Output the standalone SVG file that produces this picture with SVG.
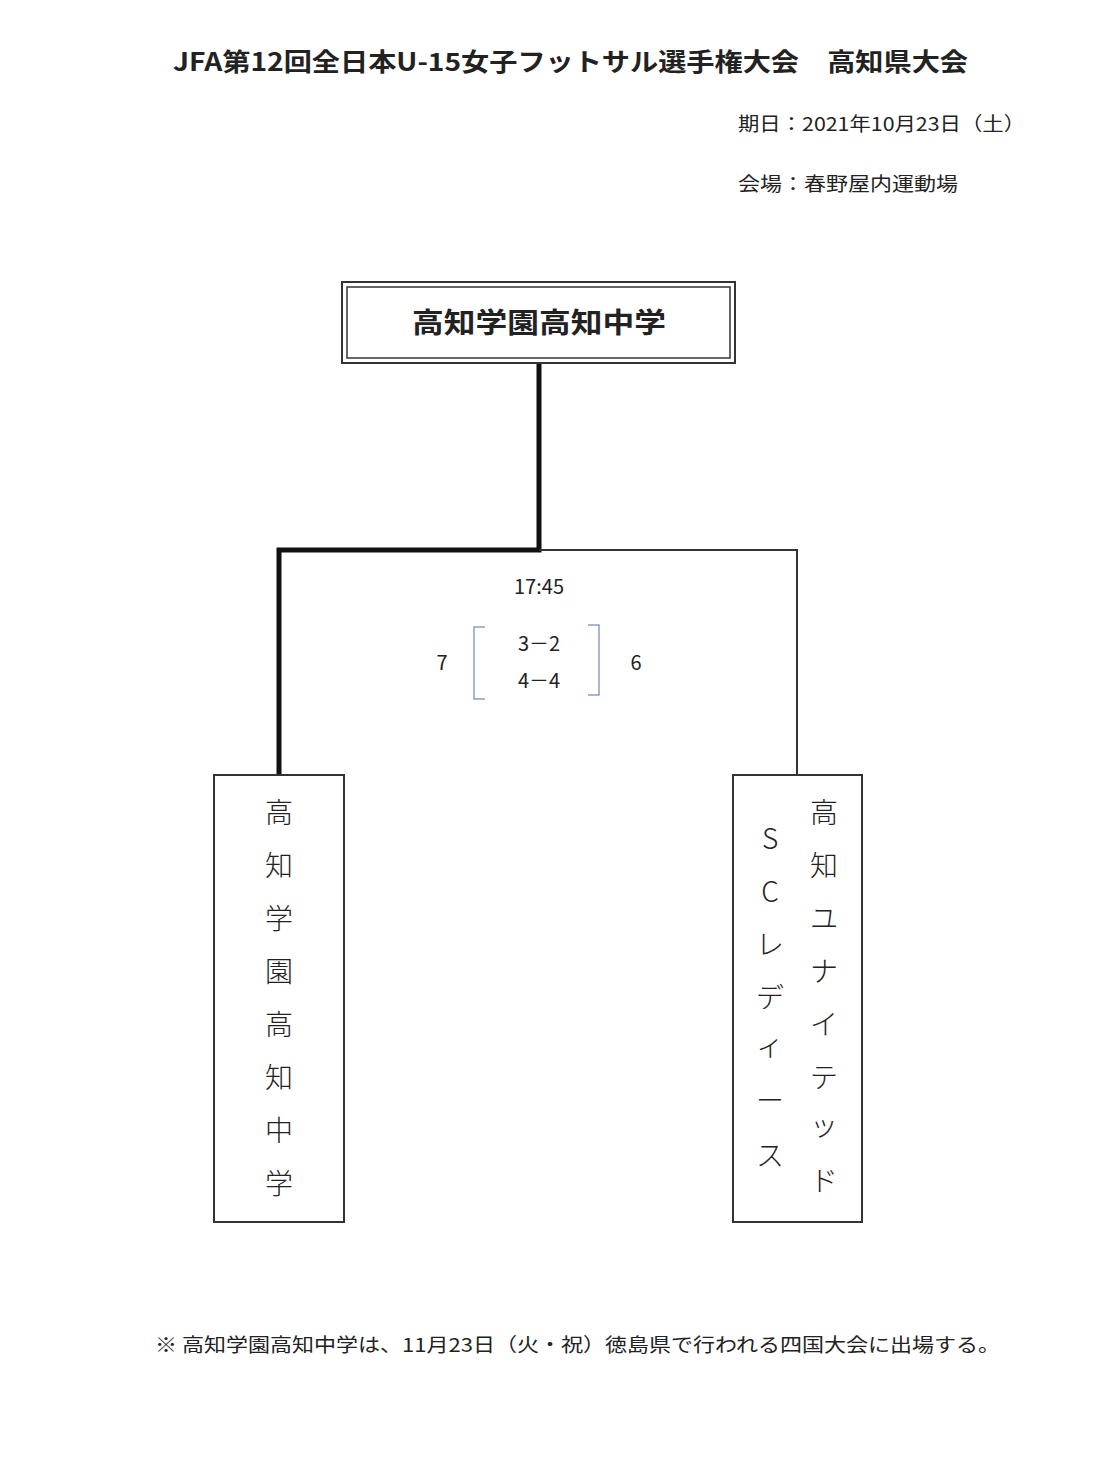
<svg xmlns="http://www.w3.org/2000/svg" width="1116" height="1480" viewBox="0 0 1116 1480">
<style>
text{font-family:"Noto Sans CJK JP","Noto Sans",sans-serif;fill:#222}
.v{font-size:28px;text-anchor:middle;font-weight:300}
.box{fill:#fff;stroke:#333;stroke-width:2}
.s{font-size:19px}
</style>
<rect width="1116" height="1480" fill="#fff"/>
<text x="173" y="71" font-size="25" font-weight="bold" textLength="795" lengthAdjust="spacingAndGlyphs">JFA第12回全日本U-15女子フットサル選手権大会　高知県大会</text>
<text x="738" y="131" class="s" textLength="287" lengthAdjust="spacingAndGlyphs">期日：2021年10月23日（土）</text>
<text x="738" y="191" class="s" textLength="220" lengthAdjust="spacingAndGlyphs">会場：春野屋内運動場</text>
<g id="connectors" fill="none">
<path d="M539 363V550H279V775" stroke="#111" stroke-width="5"/>
<path d="M539 550H797V775" stroke="#333" stroke-width="2"/>
</g>
<g id="champion">
<rect x="342" y="282" width="393" height="81" class="box"/>
<rect x="347" y="287" width="383" height="71" fill="none" stroke="#333" stroke-width="1.5"/>
<text x="412" y="333" font-size="28" font-weight="bold" textLength="254" lengthAdjust="spacingAndGlyphs">高知学園高知中学</text>
</g>
<g id="score">
<text x="539" y="594" font-size="20" text-anchor="middle">17:45</text>
<text x="442" y="670" font-size="20" text-anchor="middle">7</text>
<text x="636" y="670" font-size="20" text-anchor="middle">6</text>
<text x="539" y="651" font-size="20" text-anchor="middle">3－2</text>
<text x="539" y="688" font-size="20" text-anchor="middle">4－4</text>
<path d="M485 627H474V699H485M588 625H599V695H588" fill="none" stroke="#8aa0bf" stroke-width="1.5"/>
</g>
<g id="team-left">
<rect x="214" y="775" width="130" height="447" class="box"/>
<text class="v" x="279" y="823">高</text><text class="v" x="279" y="876">知</text><text class="v" x="279" y="929">学</text><text class="v" x="279" y="982">園</text><text class="v" x="279" y="1035">高</text><text class="v" x="279" y="1088">知</text><text class="v" x="279" y="1141">中</text><text class="v" x="279" y="1194">学</text>
</g>
<g id="team-right">
<rect x="733" y="775" width="129" height="447" class="box"/>
<text class="v" x="824" y="823">高</text><text class="v" x="824" y="876">知</text><text class="v" x="824" y="929">ユ</text><text class="v" x="824" y="982">ナ</text><text class="v" x="824" y="1035">イ</text><text class="v" x="824" y="1088">テ</text><text class="v" x="824" y="1136">ッ</text><text class="v" x="824" y="1191">ド</text>
<text class="v" x="770" y="849">S</text><text class="v" x="770" y="902">C</text><text class="v" x="770" y="955">レ</text><text class="v" x="770" y="1008">デ</text><text class="v" x="770" y="1056">ィ</text><text class="v" x="770" y="1111">ー</text><text class="v" x="770" y="1166">ス</text>
</g>
<text x="155" y="1352" class="s" textLength="845" lengthAdjust="spacingAndGlyphs">※ 高知学園高知中学は、11月23日（火・祝）徳島県で行われる四国大会に出場する。</text>
</svg>
